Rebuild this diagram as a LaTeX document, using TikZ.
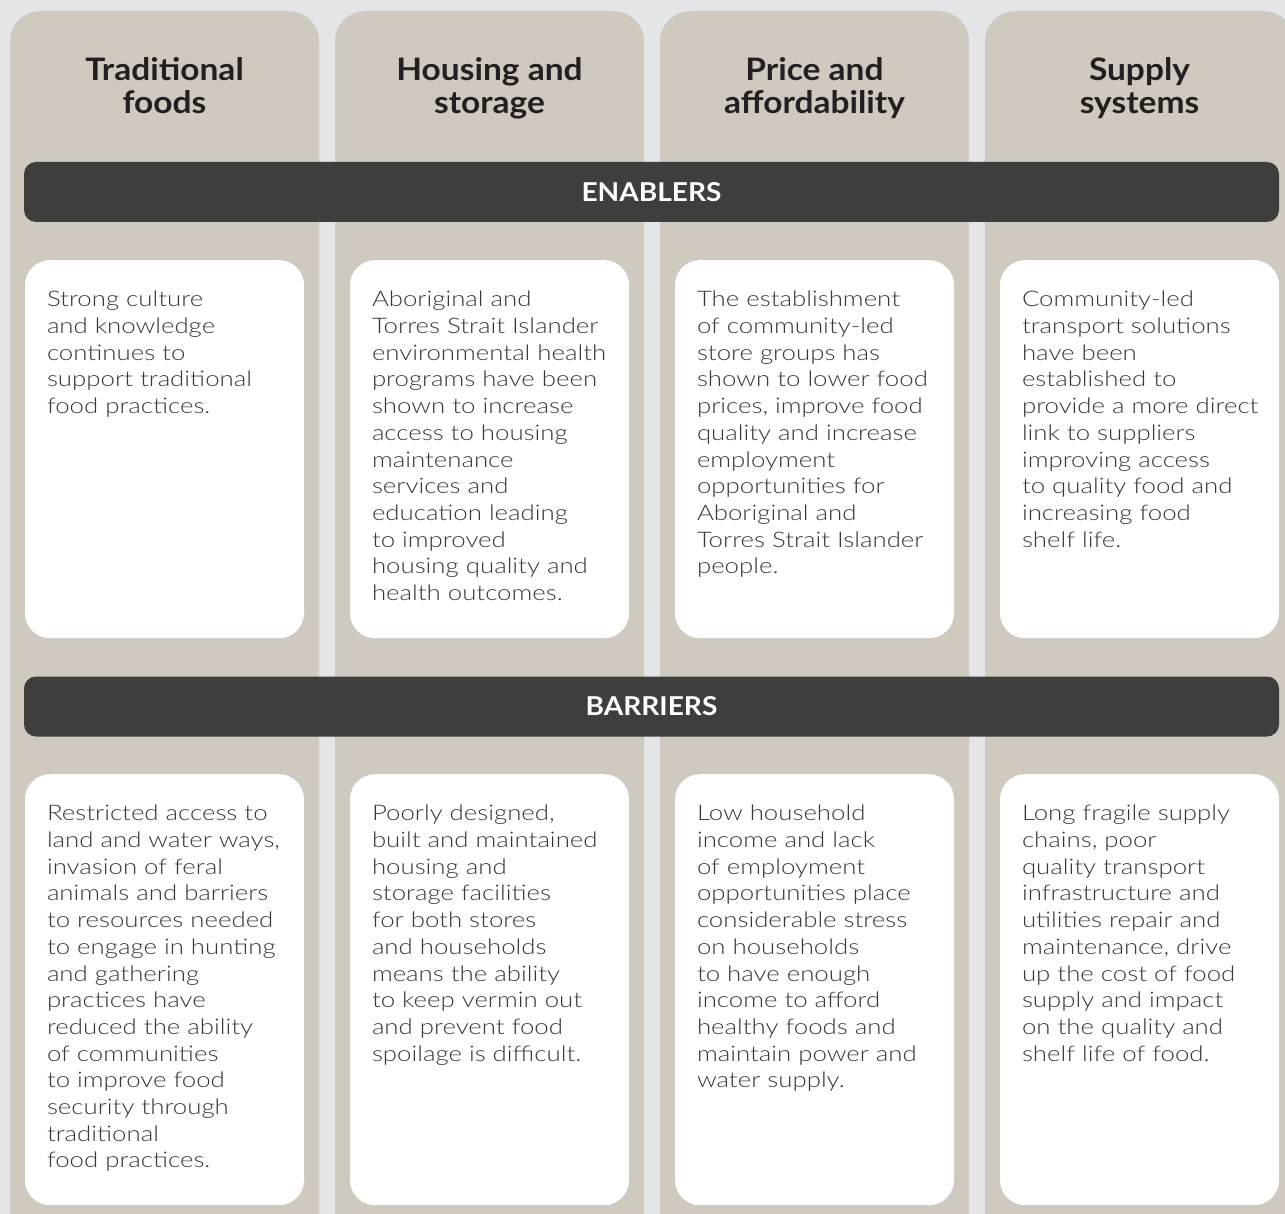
\documentclass[tikz,border=0pt]{standalone}
\usepackage{fontspec}
\setmainfont{Lato}[FakeStretch=1.08]
\newfontfamily\lightfont{Lato Light}[FakeStretch=1.2]
\definecolor{pagegray}{RGB}{228, 229, 230}
\definecolor{colsand}{RGB}{207, 201, 191}
\definecolor{bardark}{RGB}{64, 62, 60}
\definecolor{bodygray}{RGB}{55, 55, 55}
\definecolor{headink}{RGB}{35, 31, 32}
\usetikzlibrary{positioning}

\begin{document}
\begin{tikzpicture}[x=1pt, y=-1pt,
  col/.style={fill=colsand, rounded corners=30pt, minimum width=309pt, minimum height=1260pt, anchor=north, inner sep=0pt},
  head/.style={anchor=north, align=center, inner sep=0pt, text=headink, font=\fontsize{31}{33}\selectfont\bfseries},
  bar/.style={fill=bardark, rounded corners=12pt, minimum width=1255pt, minimum height=60pt, inner sep=0pt, text=white, font=\fontsize{26}{26}\selectfont\bfseries},
  card/.style={fill=white, rounded corners=25pt, minimum width=279pt, minimum height=#1, anchor=north, inner sep=0pt},
  txt/.style={align=left, inner sep=0pt, text=bodygray, font=\lightfont\fontsize{21.5}{26.7}\selectfont},
]
  \useasboundingbox (0,0) rectangle (1285,1214);
  \clip (0,0) rectangle (1285,1214);
  \fill[pagegray] (0,0) rectangle (1285,1214);
  % columns
  \node[col] (c1) at (164.5, 11) {};
  \node[col] (c2) at (489.5, 11) {};
  \node[col] (c3) at (814.5, 11) {};
  \node[col] (c4) at (1139.5, 11) {};
  \node[head] (h1) at (164.5, 57) {Traditional\\foods};
  \node[head] (h2) at (489.5, 57) {Housing and\\storage};
  \node[head] (h3) at (814.5, 57) {Price and\\affordability};
  \node[head] (h4) at (1139.5, 57) {Supply\\systems};
  % bands
  \node[bar] (enab) at (651.5, 192) {ENABLERS};
  \node[bar] (barr) at (651.5, 706.5) {BARRIERS};
  % enablers
  \node[card=378pt] (e1) at (164.5, 260) {};
  \node[card=378pt] (e2) at (489.5, 260) {};
  \node[card=378pt] (e3) at (814.5, 260) {};
  \node[card=378pt] (e4) at (1139.5, 260) {};
  \node[txt, below right=31pt and 22pt of e1.north west] (te1) {Strong culture\\and knowledge\\continues to\\support traditional\\food practices.};
  \node[txt, below right=31pt and 22pt of e2.north west] (te2) {Aboriginal and\\Torres Strait Islander\\environmental health\\programs have been\\shown to increase\\access to housing\\maintenance\\services and\\education leading\\to improved\\housing quality and\\health outcomes.};
  \node[txt, below right=31pt and 22pt of e3.north west] (te3) {The establishment\\of community-led\\store groups has\\shown to lower food\\prices, improve food\\quality and increase\\employment\\opportunities for\\Aboriginal and\\Torres Strait Islander\\people.};
  \node[txt, below right=31pt and 22pt of e4.north west] (te4) {Community-led\\transport solutions\\have been\\established to\\provide a more direct\\link to suppliers\\improving access\\to quality food and\\increasing food\\shelf life.};
  % barriers
  \node[card=431pt] (b1) at (164.5, 774) {};
  \node[card=431pt] (b2) at (489.5, 774) {};
  \node[card=431pt] (b3) at (814.5, 774) {};
  \node[card=431pt] (b4) at (1139.5, 774) {};
  \node[txt, below right=31pt and 22pt of b1.north west] (tb1) {Restricted access to\\land and water ways,\\invasion of feral\\animals and barriers\\to resources needed\\to engage in hunting\\and gathering\\practices have\\reduced the ability\\of communities\\to improve food\\security through\\traditional\\food practices.};
  \node[txt, below right=31pt and 22pt of b2.north west] (tb2) {Poorly designed,\\built and maintained\\housing and\\storage facilities\\for both stores\\and households\\means the ability\\to keep vermin out\\and prevent food\\spoilage is difficult.};
  \node[txt, below right=31pt and 22pt of b3.north west] (tb3) {Low household\\income and lack\\of employment\\opportunities place\\considerable stress\\on households\\to have enough\\income to afford\\healthy foods and\\maintain power and\\water supply.};
  \node[txt, below right=31pt and 22pt of b4.north west] (tb4) {Long fragile supply\\chains, poor\\quality transport\\infrastructure and\\utilities repair and\\maintenance, drive\\up the cost of food\\supply and impact\\on the quality and\\shelf life of food.};
\end{tikzpicture}
\end{document}
